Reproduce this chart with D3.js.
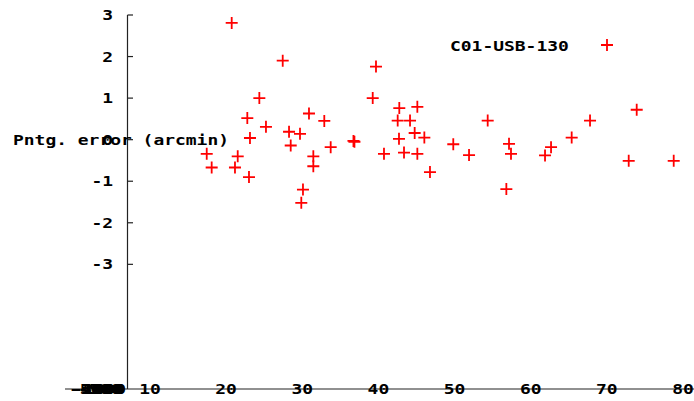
<!DOCTYPE html>
<html>
<head>
<meta charset="utf-8">
<script src="https://cdn.jsdelivr.net/npm/d3@7"></script>
<style>
body { margin: 0; background: #fff; }
text { font-family: "DejaVu Sans Mono", monospace; font-weight: bold; font-size: 14px; fill: #000; }
</style>
</head>
<body>
<div class="chart-container"></div>
<script>
var width = 694;
var height = 401;
var charWidth = 10.8;

// pointing error (arcmin) against x
var xValues = [20.73, 27.43, 24.36, 39.68, 39.25, 22.78, 25.23, 23.13, 17.45, 18.10,
	21.52, 21.16, 23.00, 30.88, 32.89, 28.26, 29.70, 28.48, 31.45, 31.45,
	33.73, 30.09, 29.87, 36.72, 36.85, 42.74, 45.11, 42.53, 44.15, 44.76,
	42.70, 46.03, 40.73, 43.36, 45.11, 46.77, 49.83, 51.90, 54.35, 57.15,
	57.41, 56.80, 61.88, 62.67, 65.38, 67.79, 73.92, 72.87, 78.78];
var yValues = [2.81, 1.90, 1.00, 1.76, 1.00, 0.52, 0.31, 0.04, -0.34, -0.67,
	-0.40, -0.67, -0.90, 0.63, 0.45, 0.19, 0.14, -0.14, -0.40, -0.64,
	-0.18, -1.20, -1.52, -0.03, -0.05, 0.76, 0.79, 0.46, 0.46, 0.16,
	0.02, 0.05, -0.34, -0.31, -0.34, -0.78, -0.11, -0.37, 0.46, -0.10,
	-0.34, -1.19, -0.38, -0.18, 0.05, 0.46, 0.72, -0.51, -0.51];

var xTicks = [10, 20, 30, 40, 50, 60, 70, 80];
var yTicks = [3, 2, 1, 0, -1, -2, -3];
// the squashed labels piled up left of the axis
var crowdedLabels = ["-5000", "-4000", "-3000", "-2000", "-1000", "-500", "0"];
var seriesName = "C01-USB-130";
var yLabel = "Pntg. error (arcmin)";

var svg = d3.select(".chart-container").append("svg")
	.attr("width", width).attr("height", height);

var x = d3.scaleLinear().domain([10, 80]).range([150, 683]);
var y = d3.scaleLinear().domain([-6, 3]).range([389, 15]);
var xCrowd = d3.scaleLinear().domain([-5000, 0]).range([96, 100]);

function drawText(str, px, py, anchor) {
	return svg.append("text")
		.attr("x", px)
		.attr("y", py)
		.attr("dy", "0.36em")
		.attr("text-anchor", anchor)
		.attr("textLength", str.length * charWidth)
		.attr("lengthAdjust", "spacingAndGlyphs")
		.text(str);
}

function drawPlus(px, py) {
	svg.append("path")
		.attr("d", "M" + (px - 6) + "," + py + "h12M" + px + "," + (py - 6) + "v12")
		.attr("stroke", "#ff0000")
		.attr("stroke-width", 1.8)
		.attr("fill", "none");
}

// axes
svg.append("line")
	.attr("x1", 65).attr("x2", width)
	.attr("y1", y(-6)).attr("y2", y(-6))
	.attr("stroke", "#222").attr("stroke-width", 1.2);
svg.append("line")
	.attr("x1", 127.5).attr("x2", 127.5)
	.attr("y1", y(3)).attr("y2", y(-6))
	.attr("stroke", "#222").attr("stroke-width", 1.2);

yTicks.forEach(function (t) {
	svg.append("line")
		.attr("x1", 127.5).attr("x2", 133)
		.attr("y1", y(t)).attr("y2", y(t))
		.attr("stroke", "#222").attr("stroke-width", 1.2);
	drawText(String(t), 113, y(t), "end");
});

xTicks.forEach(function (t) {
	drawText(String(t), x(t), y(-6), "middle");
});
crowdedLabels.forEach(function (t) {
	drawText(t, xCrowd(+t), y(-6), "middle");
});

drawText(yLabel, 13, 140, "start");

// points
for (var i = 0; i < xValues.length; i++) {
	drawPlus(x(xValues[i]), y(yValues[i]));
}

// legend
drawText(seriesName, 450, 46, "start");
drawPlus(607, 45);
</script>
</body>
</html>
